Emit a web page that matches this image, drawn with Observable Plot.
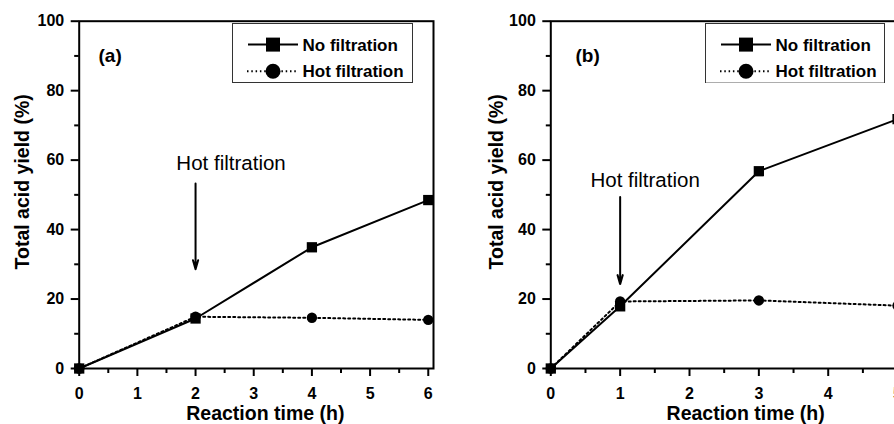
<!DOCTYPE html>
<html><head><meta charset="utf-8">
<script src="https://cdn.jsdelivr.net/npm/d3@7"></script>
<script src="https://cdn.jsdelivr.net/npm/@observablehq/plot@0.6"></script>
<style>
html,body{margin:0;padding:0;background:#fff;}
#wrap{position:relative;width:894px;height:424px;overflow:hidden;font-family:"Liberation Sans",Arial,sans-serif;}
.panel{position:absolute;top:0;}
.panel svg{max-width:none !important;}
.legend{position:absolute;}
</style></head><body><div id="wrap"></div>
<script>
// ---- data ----
const timeA = [0, 2, 4, 6];
const noFiltA = [0, 14.4, 34.9, 48.5];
const hotFiltA = [0, 14.9, 14.6, 14.0];
const timeB = [0, 1, 3, 5];
const noFiltB = [0, 17.9, 56.8, 71.8];
const hotFiltB = [0, 19.3, 19.6, 18.1];
const yTicks = [0, 20, 40, 60, 80, 100];
const yMinor = [10, 30, 50, 70, 90];
const xTicksA = [0, 1, 2, 3, 4, 5, 6];
const xMinorA = [0.5, 1.5, 2.5, 3.5, 4.5, 5.5];
const xTicksB = [0, 1, 2, 3, 4, 5];
const xMinorB = [0.5, 1.5, 2.5, 3.5, 4.5];
const seriesNames = ["No filtration", "Hot filtration"];
const panelLabels = ["(a)", "(b)"];
const xTitle = "Reaction time (h)";
const yTitle = "Total acid yield (%)";
const noteText = "Hot filtration";
// arrow: x, top, tip (data units); note centre (data units)
const arrowA = {x: [2], top: [53.3], tip: [28.6], noteX: [2.61], noteY: [59.1]};
const arrowB = {x: [1], top: [49.4], tip: [24.3], noteX: [1.36], noteY: [54.2]};

const wrap = document.getElementById("wrap");
const FONT = "Liberation Sans, Arial, sans-serif";

function panel(cfg) {
  const rows = cfg.t.map((t, i) => ({t, no: cfg.no[i], hot: cfg.hot[i]}));
  const ar = cfg.arrow;
  const arr = ar.x.map((x, i) => ({x, top: ar.top[i], tip: ar.tip[i]}));
  const notes = ar.noteX.map((x, i) => ({x, y: ar.noteY[i], label: noteText}));
  return Plot.plot({
    width: cfg.width, height: 424,
    marginLeft: cfg.ml, marginRight: cfg.mr, marginTop: 20.7, marginBottom: 56,
    x: {domain: cfg.xdom, label: null},
    y: {domain: [0, 100], label: null},
    style: {fontFamily: FONT, fontSize: "16px", fontWeight: "bold", color: "black", background: "transparent", overflow: "visible", maxWidth: "none"},
    marks: [
      Plot.axisY(yTicks, {tickSize: 8, tickPadding: 7, strokeWidth: 2, label: null, fontSize: 16, fontWeight: "bold"}),
      Plot.axisY(yMinor, {tickSize: 4.5, strokeWidth: 2, label: null, tickFormat: () => ""}),
      Plot.axisX(cfg.xt, {tickSize: 8, tickPadding: 11, strokeWidth: 2, label: null, fontSize: 16, fontWeight: "bold"}),
      Plot.axisX(cfg.xm, {tickSize: 5, strokeWidth: 2, label: null, tickFormat: () => ""}),
      Plot.line(rows, {x: "t", y: "hot", stroke: "black", strokeWidth: 2, strokeDasharray: "2,3"}),
      Plot.line(rows, {x: "t", y: "no", stroke: "black", strokeWidth: 2}),
      Plot.dot(rows, {x: "t", y: "no", symbol: "square", r: 5.8, fill: "black", stroke: "none"}),
      Plot.dot(rows, {x: "t", y: "hot", symbol: "circle", r: 5.2, fill: "black", stroke: "none"}),
      Plot.arrow(arr, {x: "x", y1: "top", y2: "tip", stroke: "black", strokeWidth: 2, headLength: 7, headAngle: 32, insetEnd: 0}),
      Plot.text(notes, {x: "x", y: "y", text: "label", fontSize: 20.5, fontWeight: "normal", fill: "black", textAnchor: "middle", lineAnchor: "middle"}),
      Plot.text([cfg.tag], {frameAnchor: "top-left", dx: cfg.tagDx, dy: 34.3, fontSize: 19, fontWeight: "bold", textAnchor: "start", lineAnchor: "middle"}),
      Plot.text([xTitle], {frameAnchor: "bottom", dx: cfg.xlDx, dy: 45, fontSize: 19.5, fontWeight: "bold", textAnchor: "middle", lineAnchor: "middle"}),
      Plot.text([yTitle], {frameAnchor: "left", rotate: -90, dx: cfg.ylDx, dy: -13, fontSize: 19.5, fontWeight: "bold", textAnchor: "middle", lineAnchor: "middle"}),
      Plot.frame({stroke: "black", strokeWidth: 2})
    ]
  });
}

function legend(left, top, w, h) {
  const ns = "http://www.w3.org/2000/svg";
  const s = document.createElementNS(ns, "svg");
  s.setAttribute("width", w); s.setAttribute("height", h);
  s.setAttribute("class", "legend");
  s.style.left = left + "px"; s.style.top = top + "px";
  const r1 = 21.6, r2 = 48.3;
  s.innerHTML = `
    <rect x="0.5" y="0.5" width="${w-1}" height="${h-1}" fill="white" stroke="#333" stroke-width="1"/>
    <line x1="16" x2="66" y1="${r1}" y2="${r1}" stroke="black" stroke-width="2"/>
    <rect x="${41-7}" y="${r1-7}" width="14" height="14" fill="black"/>
    <line x1="15" x2="66" y1="${r2}" y2="${r2}" stroke="black" stroke-width="2" stroke-dasharray="1.5,2.8"/>
    <circle cx="41" cy="${r2}" r="7.5" fill="black"/>
    <text x="70.5" y="${r1}" dy="0.36em" font-family="${FONT}" font-size="17" font-weight="bold">${seriesNames[0]}</text>
    <text x="70.5" y="${r2}" dy="0.36em" font-family="${FONT}" font-size="17" font-weight="bold">${seriesNames[1]}</text>`;
  return s;
}

const pA = panel({t: timeA, no: noFiltA, hot: hotFiltA, xdom: [0, 6.09], xt: xTicksA, xm: xMinorA,
  width: 447, ml: 78.7, mr: 14, arrow: arrowA, tag: panelLabels[0], tagDx: 19.3, xlDx: 9, ylDx: -56.2});
const pB = panel({t: timeB, no: noFiltB, hot: hotFiltB, xdom: [0, 5.1], xt: xTicksB, xm: xMinorB,
  width: 471, ml: 103.3, mr: 14, arrow: arrowB, tag: panelLabels[1], tagDx: 24.7, xlDx: 18, ylDx: -54});
const dA = document.createElement("div"); dA.className = "panel"; dA.style.left = "0px"; dA.style.width = "447px"; dA.appendChild(pA);
const dB = document.createElement("div"); dB.className = "panel"; dB.style.left = "447px"; dB.style.width = "471px"; dB.appendChild(pB);
wrap.appendChild(dA); wrap.appendChild(dB);
wrap.appendChild(legend(232, 22.7, 181, 60));
wrap.appendChild(legend(705.3, 22.7, 180, 60.6));
</script></body></html>
